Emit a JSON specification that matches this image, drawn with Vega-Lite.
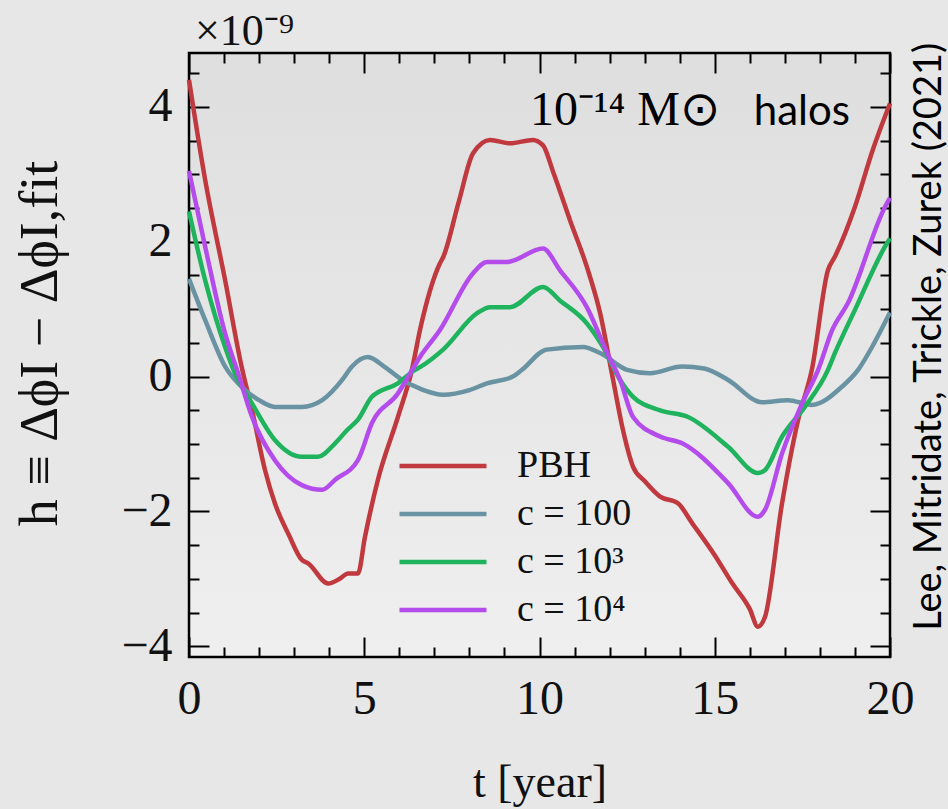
{
  "$schema": "https://vega.github.io/schema/vega-lite/v6.json",
  "width": 701,
  "height": 604,
  "autosize": {"type": "none"},
  "padding": {"left": 189, "top": 53, "right": 58, "bottom": 152},
  "background": "#e7e7e7",
  "config": {
    "view": {"stroke": "#000", "strokeWidth": 2.5, "fill": {"gradient": "linear", "x1": 0, "y1": 0, "x2": 0, "y2": 1, "stops": [{"offset": 0, "color": "#dedede"}, {"offset": 1, "color": "#efefef"}]}},
    "axis": {"labelFont": "Liberation Serif", "titleFont": "Liberation Serif", "labelColor": "#111", "titleColor": "#111", "titleFontWeight": "normal", "grid": false, "domain": false, "tickColor": "#000", "tickWidth": 2}
  },
  "datasets": {
    "curves": [
      {"s": "PBH", "t": 0, "h": 4.4}, {"s": "PBH", "t": 0.46, "h": 2.92}, {"s": "PBH", "t": 1.03, "h": 1.43}, {"s": "PBH", "t": 1.5, "h": 0.15}, {"s": "PBH", "t": 1.8, "h": -0.5}, {"s": "PBH", "t": 2.17, "h": -1.39}, {"s": "PBH", "t": 2.45, "h": -1.88}, {"s": "PBH", "t": 2.85, "h": -2.35}, {"s": "PBH", "t": 3.22, "h": -2.72}, {"s": "PBH", "t": 3.4, "h": -2.77}, {"s": "PBH", "t": 3.97, "h": -3.07}, {"s": "PBH", "t": 4.3, "h": -3.0}, {"s": "PBH", "t": 4.54, "h": -2.92}, {"s": "PBH", "t": 4.82, "h": -2.92}, {"s": "PBH", "t": 5.02, "h": -2.38}, {"s": "PBH", "t": 5.39, "h": -1.53}, {"s": "PBH", "t": 5.96, "h": -0.6}, {"s": "PBH", "t": 6.36, "h": 0.1}, {"s": "PBH", "t": 6.59, "h": 0.69}, {"s": "PBH", "t": 7.16, "h": 1.68}, {"s": "PBH", "t": 7.25, "h": 1.77}, {"s": "PBH", "t": 7.7, "h": 2.6}, {"s": "PBH", "t": 8.1, "h": 3.31}, {"s": "PBH", "t": 8.59, "h": 3.51}, {"s": "PBH", "t": 9.16, "h": 3.46}, {"s": "PBH", "t": 9.81, "h": 3.51}, {"s": "PBH", "t": 10.1, "h": 3.43}, {"s": "PBH", "t": 10.4, "h": 3.02}, {"s": "PBH", "t": 10.87, "h": 2.32}, {"s": "PBH", "t": 11.35, "h": 1.63}, {"s": "PBH", "t": 11.73, "h": 0.94}, {"s": "PBH", "t": 12.1, "h": -0.05}, {"s": "PBH", "t": 12.38, "h": -0.79}, {"s": "PBH", "t": 12.67, "h": -1.34}, {"s": "PBH", "t": 13.0, "h": -1.55}, {"s": "PBH", "t": 13.44, "h": -1.78}, {"s": "PBH", "t": 13.95, "h": -1.88}, {"s": "PBH", "t": 14.35, "h": -2.17}, {"s": "PBH", "t": 15.0, "h": -2.65}, {"s": "PBH", "t": 15.49, "h": -3.06}, {"s": "PBH", "t": 16.0, "h": -3.45}, {"s": "PBH", "t": 16.23, "h": -3.71}, {"s": "PBH", "t": 16.43, "h": -3.57}, {"s": "PBH", "t": 16.92, "h": -1.88}, {"s": "PBH", "t": 17.38, "h": -0.64}, {"s": "PBH", "t": 17.77, "h": 0.1}, {"s": "PBH", "t": 18.23, "h": 1.58}, {"s": "PBH", "t": 18.43, "h": 1.78}, {"s": "PBH", "t": 19.0, "h": 2.52}, {"s": "PBH", "t": 19.5, "h": 3.35}, {"s": "PBH", "t": 20, "h": 4.05},
      {"s": "c = 100", "t": 0, "h": 1.45}, {"s": "c = 100", "t": 0.46, "h": 0.84}, {"s": "c = 100", "t": 1.03, "h": 0.15}, {"s": "c = 100", "t": 1.6, "h": -0.2}, {"s": "c = 100", "t": 2.0, "h": -0.35}, {"s": "c = 100", "t": 2.45, "h": -0.45}, {"s": "c = 100", "t": 3.22, "h": -0.45}, {"s": "c = 100", "t": 3.8, "h": -0.35}, {"s": "c = 100", "t": 4.37, "h": -0.05}, {"s": "c = 100", "t": 4.65, "h": 0.15}, {"s": "c = 100", "t": 5.1, "h": 0.29}, {"s": "c = 100", "t": 5.59, "h": 0.14}, {"s": "c = 100", "t": 6.08, "h": -0.05}, {"s": "c = 100", "t": 6.59, "h": -0.18}, {"s": "c = 100", "t": 7.25, "h": -0.27}, {"s": "c = 100", "t": 8.0, "h": -0.2}, {"s": "c = 100", "t": 8.5, "h": -0.1}, {"s": "c = 100", "t": 9.24, "h": 0.0}, {"s": "c = 100", "t": 9.5, "h": 0.1}, {"s": "c = 100", "t": 10.2, "h": 0.4}, {"s": "c = 100", "t": 11.24, "h": 0.44}, {"s": "c = 100", "t": 11.73, "h": 0.35}, {"s": "c = 100", "t": 12.5, "h": 0.1}, {"s": "c = 100", "t": 13.15, "h": 0.05}, {"s": "c = 100", "t": 14.07, "h": 0.15}, {"s": "c = 100", "t": 14.7, "h": 0.12}, {"s": "c = 100", "t": 15.38, "h": -0.05}, {"s": "c = 100", "t": 16.35, "h": -0.38}, {"s": "c = 100", "t": 17.09, "h": -0.35}, {"s": "c = 100", "t": 17.77, "h": -0.42}, {"s": "c = 100", "t": 18.63, "h": -0.15}, {"s": "c = 100", "t": 19.09, "h": 0.1}, {"s": "c = 100", "t": 19.5, "h": 0.45}, {"s": "c = 100", "t": 20, "h": 0.95},
      {"s": "c = 10³", "t": 0, "h": 2.45}, {"s": "c = 10³", "t": 0.46, "h": 1.43}, {"s": "c = 10³", "t": 1.03, "h": 0.44}, {"s": "c = 10³", "t": 1.31, "h": 0.05}, {"s": "c = 10³", "t": 1.8, "h": -0.4}, {"s": "c = 10³", "t": 2.45, "h": -0.94}, {"s": "c = 10³", "t": 3.22, "h": -1.19}, {"s": "c = 10³", "t": 3.68, "h": -1.19}, {"s": "c = 10³", "t": 4.17, "h": -0.99}, {"s": "c = 10³", "t": 4.5, "h": -0.8}, {"s": "c = 10³", "t": 4.82, "h": -0.64}, {"s": "c = 10³", "t": 5.22, "h": -0.3}, {"s": "c = 10³", "t": 5.96, "h": -0.1}, {"s": "c = 10³", "t": 6.45, "h": 0.1}, {"s": "c = 10³", "t": 6.59, "h": 0.14}, {"s": "c = 10³", "t": 7.25, "h": 0.4}, {"s": "c = 10³", "t": 8.22, "h": 0.94}, {"s": "c = 10³", "t": 8.59, "h": 1.03}, {"s": "c = 10³", "t": 9.16, "h": 1.03}, {"s": "c = 10³", "t": 10.1, "h": 1.33}, {"s": "c = 10³", "t": 10.58, "h": 1.13}, {"s": "c = 10³", "t": 11.35, "h": 0.79}, {"s": "c = 10³", "t": 11.81, "h": 0.44}, {"s": "c = 10³", "t": 12.3, "h": -0.05}, {"s": "c = 10³", "t": 12.67, "h": -0.3}, {"s": "c = 10³", "t": 13.44, "h": -0.5}, {"s": "c = 10³", "t": 14.24, "h": -0.6}, {"s": "c = 10³", "t": 15.38, "h": -1.04}, {"s": "c = 10³", "t": 16.23, "h": -1.43}, {"s": "c = 10³", "t": 16.43, "h": -1.39}, {"s": "c = 10³", "t": 16.92, "h": -0.89}, {"s": "c = 10³", "t": 17.57, "h": -0.45}, {"s": "c = 10³", "t": 18.23, "h": 0.1}, {"s": "c = 10³", "t": 18.43, "h": 0.35}, {"s": "c = 10³", "t": 19.0, "h": 0.99}, {"s": "c = 10³", "t": 19.86, "h": 1.93}, {"s": "c = 10³", "t": 20, "h": 2.05},
      {"s": "c = 10⁴", "t": 0, "h": 3.05}, {"s": "c = 10⁴", "t": 0.46, "h": 1.93}, {"s": "c = 10⁴", "t": 1.03, "h": 0.64}, {"s": "c = 10⁴", "t": 1.4, "h": 0.05}, {"s": "c = 10⁴", "t": 1.8, "h": -0.6}, {"s": "c = 10⁴", "t": 2.45, "h": -1.24}, {"s": "c = 10⁴", "t": 3.22, "h": -1.61}, {"s": "c = 10⁴", "t": 3.8, "h": -1.68}, {"s": "c = 10⁴", "t": 4.17, "h": -1.53}, {"s": "c = 10⁴", "t": 4.82, "h": -1.24}, {"s": "c = 10⁴", "t": 5.22, "h": -0.69}, {"s": "c = 10⁴", "t": 5.96, "h": -0.25}, {"s": "c = 10⁴", "t": 6.2, "h": -0.05}, {"s": "c = 10⁴", "t": 6.59, "h": 0.29}, {"s": "c = 10⁴", "t": 7.16, "h": 0.69}, {"s": "c = 10⁴", "t": 8.1, "h": 1.53}, {"s": "c = 10⁴", "t": 8.5, "h": 1.7}, {"s": "c = 10⁴", "t": 9.07, "h": 1.7}, {"s": "c = 10⁴", "t": 10.1, "h": 1.9}, {"s": "c = 10⁴", "t": 10.58, "h": 1.58}, {"s": "c = 10⁴", "t": 11.35, "h": 1.03}, {"s": "c = 10⁴", "t": 11.93, "h": 0.35}, {"s": "c = 10⁴", "t": 12.3, "h": -0.05}, {"s": "c = 10⁴", "t": 12.67, "h": -0.6}, {"s": "c = 10⁴", "t": 13.44, "h": -0.89}, {"s": "c = 10⁴", "t": 14.07, "h": -0.99}, {"s": "c = 10⁴", "t": 15.38, "h": -1.58}, {"s": "c = 10⁴", "t": 16.23, "h": -2.08}, {"s": "c = 10⁴", "t": 16.43, "h": -1.98}, {"s": "c = 10⁴", "t": 16.92, "h": -1.14}, {"s": "c = 10⁴", "t": 17.49, "h": -0.4}, {"s": "c = 10⁴", "t": 17.95, "h": 0.1}, {"s": "c = 10⁴", "t": 18.35, "h": 0.69}, {"s": "c = 10⁴", "t": 18.8, "h": 1.09}, {"s": "c = 10⁴", "t": 19.86, "h": 2.52}, {"s": "c = 10⁴", "t": 20, "h": 2.65}
    ]
  },
  "data": {"name": "curves"},
  "layer": [
    {
      "mark": {"type": "line", "strokeWidth": 4.5, "interpolate": "monotone"},
      "encoding": {
        "x": {"field": "t", "type": "quantitative", "scale": {"domain": [0, 20], "nice": false, "zero": false},
          "axis": {"orient": "bottom", "values": [0, 5, 10, 15, 20], "ticks": false, "tickSize": 0, "labelFontSize": 48, "labelPadding": 56, "labelBaseline": "alphabetic", "labelFlush": false, "labelOverlap": false, "title": "t [year]", "titleFontSize": 46, "titleY": 139, "titleBaseline": "alphabetic"}},
        "y": {"field": "h", "type": "quantitative", "scale": {"domain": [-4.16, 4.8], "nice": false, "zero": false},
          "axis": {"orient": "left", "values": [-4, -2, 0, 2, 4], "ticks": false, "tickSize": 0, "labelFontSize": 48, "labelPadding": 17, "labelFlush": false, "labelOverlap": false, "title": "h  ≡  ΔϕI  −  ΔϕI,fit", "titleFontSize": 54, "titleAngle": 270, "titleX": -149, "titleY": 290, "titleAlign": "center", "titleBaseline": "middle"}},
        "color": {"field": "s", "type": "nominal",
          "scale": {"domain": ["PBH", "c = 100", "c = 10³", "c = 10⁴"], "range": ["#c0393f", "#6993a3", "#1fb35d", "#b44cec"]},
          "legend": {"orient": "none", "legendX": 230, "legendY": 389, "title": null, "symbolType": "M-2,0H2", "symbolSize": 1892, "symbolStrokeWidth": 4.5, "labelFont": "Liberation Serif", "labelFontSize": 38, "labelColor": "#111", "labelOffset": 50, "rowPadding": 5}}
      }
    },
    {
      "mark": {"type": "point", "opacity": 0},
      "encoding": {
        "x": {"field": "t", "type": "quantitative", "axis": {"orient": "bottom", "values": [0, 5, 10, 15, 20], "labels": false, "ticks": true, "tickSize": 20, "offset": -20, "title": null}},
        "y": {"field": "h", "type": "quantitative", "axis": {"orient": "left", "values": [-4, -2, 0, 2, 4], "labels": false, "ticks": true, "tickSize": 20, "offset": -20, "title": null}}
      }
    },
    {
      "mark": {"type": "point", "opacity": 0},
      "encoding": {
        "x": {"field": "t", "type": "quantitative", "axis": {"orient": "bottom", "values": [1, 2, 3, 4, 6, 7, 8, 9, 11, 12, 13, 14, 16, 17, 18, 19], "labels": false, "ticks": true, "tickSize": 10, "offset": -10, "title": null}},
        "y": {"field": "h", "type": "quantitative", "axis": {"orient": "left", "values": [-3.5, -3, -2.5, -1.5, -1, -0.5, 0.5, 1, 1.5, 2.5, 3, 3.5, 4.5], "labels": false, "ticks": true, "tickSize": 10, "offset": -10, "title": null}}
      }
    },
    {
      "mark": {"type": "point", "opacity": 0},
      "encoding": {
        "x": {"field": "t", "type": "quantitative", "axis": {"orient": "top", "values": [0, 5, 10, 15, 20], "labels": false, "ticks": true, "tickSize": 20, "offset": -20, "title": null}},
        "y": {"field": "h", "type": "quantitative", "axis": {"orient": "right", "values": [-4, -2, 0, 2, 4], "labels": false, "ticks": true, "tickSize": 20, "offset": -20, "title": null}}
      }
    },
    {
      "mark": {"type": "point", "opacity": 0},
      "encoding": {
        "x": {"field": "t", "type": "quantitative", "axis": {"orient": "top", "values": [1, 2, 3, 4, 6, 7, 8, 9, 11, 12, 13, 14, 16, 17, 18, 19], "labels": false, "ticks": true, "tickSize": 10, "offset": -10, "title": null}},
        "y": {"field": "h", "type": "quantitative", "axis": {"orient": "right", "values": [-3.5, -3, -2.5, -1.5, -1, -0.5, 0.5, 1, 1.5, 2.5, 3, 3.5, 4.5], "labels": false, "ticks": true, "tickSize": 10, "offset": -10, "title": null}}
      }
    },
    {
      "data": {"values": [{"label": "×10⁻⁹", "t": 0.17, "h": 4.92}]},
      "mark": {"type": "text", "align": "left", "baseline": "alphabetic", "font": "Liberation Serif", "fontSize": 44, "color": "#111", "clip": false},
      "encoding": {"x": {"field": "t", "type": "quantitative", "axis": null}, "y": {"field": "h", "type": "quantitative", "axis": null}, "text": {"field": "label"}}
    },
    {
      "data": {"values": [{"label": "10⁻¹⁴ M⊙", "t": 9.73, "h": 3.73}]},
      "mark": {"type": "text", "align": "left", "baseline": "alphabetic", "font": "Liberation Serif", "fontSize": 48, "color": "#000", "clip": false},
      "encoding": {"x": {"field": "t", "type": "quantitative", "axis": null}, "y": {"field": "h", "type": "quantitative", "axis": null}, "text": {"field": "label"}}
    },
    {
      "data": {"values": [{"label": "halos", "t": 18.86, "h": 3.73}]},
      "mark": {"type": "text", "align": "right", "baseline": "alphabetic", "font": "Lato", "fontSize": 42, "color": "#000", "clip": false},
      "encoding": {"x": {"field": "t", "type": "quantitative", "axis": null}, "y": {"field": "h", "type": "quantitative", "axis": null}, "text": {"field": "label"}}
    },
    {
      "data": {"values": [{"label": "Lee, Mitridate, Trickle, Zurek (2021)", "t": 21.14, "h": 0.59}]},
      "mark": {"type": "text", "align": "center", "baseline": "middle", "angle": 270, "font": "Lato", "fontSize": 38, "color": "#000", "clip": false},
      "encoding": {"x": {"field": "t", "type": "quantitative", "axis": null}, "y": {"field": "h", "type": "quantitative", "axis": null}, "text": {"field": "label"}}
    }
  ],
  "resolve": {"axis": {"x": "independent", "y": "independent"}}
}
